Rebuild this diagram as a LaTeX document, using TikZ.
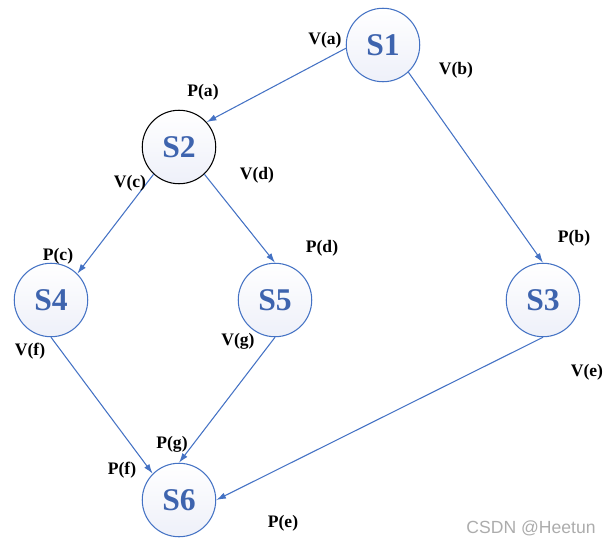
\documentclass[tikz,border=0pt]{standalone}
\usepackage{fontspec}
\setmainfont{Liberation Serif}
\setsansfont{Liberation Sans}
\usetikzlibrary{arrows.meta}

\definecolor{lineblue}{RGB}{68,114,196}
\definecolor{textblue}{RGB}{62,100,174}
\definecolor{shadeblue}{RGB}{238,240,249}

\begin{document}
\begin{tikzpicture}[
  x=0.02cm, y=-0.02cm,
  >={Latex[length=5.5pt,width=3.6pt]},
  state/.style = {circle, draw=lineblue, line width=0.6pt, minimum size=1.47cm, inner sep=0pt,
                  top color=white, bottom color=shadeblue, text=textblue,
                  font=\bfseries\fontsize{18}{18}\selectfont},
  lbl/.style   = {font=\bfseries\fontsize{10}{10}\selectfont, inner sep=0pt},
  arr/.style   = {->, lineblue, line width=0.6pt},
  wmark/.style = {font=\sffamily\fontsize{10}{10}\selectfont, gray!65, inner sep=0pt},
]
  \useasboundingbox (0,0) rectangle (613,545);
  % states
  \node[state]            (S1) at (383,45)  {S1};
  \node[state, draw=black] (S2) at (179,147) {S2};
  \node[state]            (S3) at (543,300) {S3};
  \node[state]            (S4) at (51,300)  {S4};
  \node[state]            (S5) at (275,300) {S5};
  \node[state]            (S6) at (179,500) {S6};
  % transitions
  \foreach \a/\b in {S1.185/S2.42, S1.313/S3.north, S2.227/S4.45, S2.313/S5.north,
                     S4.south/S6.135, S5.south/S6.north, S3.south/S6.east}
     \draw[arr] (\a) -- (\b);
  % labels
  \node[lbl] (va) at (325,40)  {V(a)};
  \node[lbl] (vb) at (456,70)  {V(b)};
  \node[lbl] (pa) at (203,92)  {P(a)};
  \node[lbl] (vc) at (130,183) {V(c)};
  \node[lbl] (vd) at (257,175) {V(d)};
  \node[lbl] (pc) at (58,256)  {P(c)};
  \node[lbl] (pd) at (322,248) {P(d)};
  \node[lbl] (pb) at (574,238) {P(b)};
  \node[lbl] (vf) at (30,351)  {V(f)};
  \node[lbl] (vg) at (238,341) {V(g)};
  \node[lbl] (ve) at (587,372) {V(e)};
  \node[lbl] (pg) at (172,444) {P(g)};
  \node[lbl] (pf) at (122,470) {P(f)};
  \node[lbl] (pe) at (283,523) {P(e)};
  \node[wmark] (wm) at (531,528) {CSDN @Heetun};
\end{tikzpicture}
\end{document}
